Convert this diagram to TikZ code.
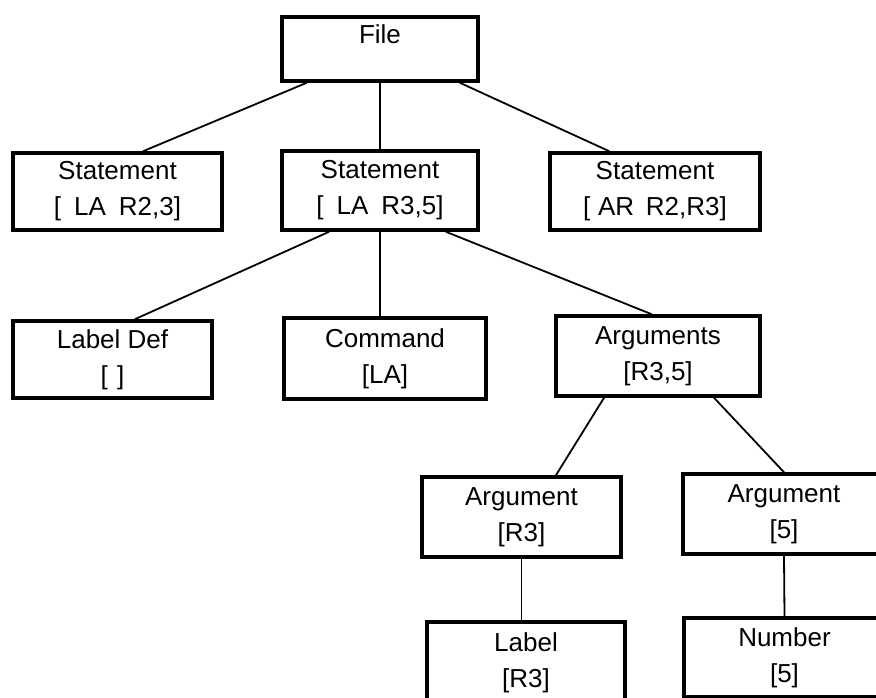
\documentclass[tikz,border=0pt]{standalone}
\usepackage{fontspec}
\setmainfont{Liberation Sans}
\usetikzlibrary{calc}
\begin{document}
\begin{tikzpicture}[x=1pt,y=-1pt,
  box/.style={draw=black, line width=3.5pt, fill=white, rectangle, inner sep=0pt,
    align=center, font=\fontsize{26}{36}\selectfont},
  conn/.style={draw=black, line width=1.8pt}]
\useasboundingbox (0,0) rectangle (876,697);
\clip (0,0) rectangle (876,697);
% boxes
\node[box, minimum width=196pt, minimum height=64pt, text height=19pt, text depth=30pt] (file) at (380,49) {File};
\node[box, minimum width=209pt, minimum height=77pt] (s1) at (117.5,191.5) {Statement\\{[}\hspace{0.5em}LA\hspace{0.5em}R2,3]};
\node[box, minimum width=196pt, minimum height=79pt] (s2) at (380,190.5) {Statement\\{[}\hspace{0.5em}LA\hspace{0.5em}R3,5]};
\node[box, minimum width=210pt, minimum height=77pt] (s3) at (655,191.5) {Statement\\{[}\hspace{0.3em}AR\hspace{0.45em}R2,R3]};
\node[box, minimum width=199pt, minimum height=77pt] (ldef) at (112.5,359.5) {Label Def\\{[}\hspace{0.35em}]};
\node[box, minimum width=202pt, minimum height=81pt] (cmd) at (385,358.5) {Command\\{[}LA]};
\node[box, minimum width=204pt, minimum height=80pt] (args) at (658,356) {Arguments\\{[}R3,5]};
\node[box, minimum width=199pt, minimum height=80pt] (a1) at (521.5,517) {Argument\\{[}R3]};
\node[box, minimum width=202pt, minimum height=80pt] (a2) at (784,514) {Argument\\{[}5]};
\node[box, minimum width=198pt, minimum height=82pt] (lab) at (526,663) {Label\\{[}R3]};
\node[box, minimum width=201pt, minimum height=79pt] (num) at (784.5,657.5) {Number\\{[}5]};
% connectors
\draw[conn] ($(file.south west)!0.133!(file.south east)$) -- ($(s1.north west)!0.62!(s1.north east)$);
\draw[conn] (file.south) -- (s2.north);
\draw[conn] ($(file.south west)!0.90!(file.south east)$) -- ($(s3.north west)!0.286!(s3.north east)$);
\draw[conn] ($(s2.south west)!0.245!(s2.south east)$) -- ($(ldef.north west)!0.61!(ldef.north east)$);
\draw[conn] (s2.south) -- (s2.south |- cmd.north);
\draw[conn] ($(s2.south west)!0.83!(s2.south east)$) -- ($(args.north west)!0.47!(args.north east)$);
\draw[conn] ($(args.south west)!0.24!(args.south east)$) -- ($(a1.north west)!0.67!(a1.north east)$);
\draw[conn] ($(args.south west)!0.77!(args.south east)$) -- (a2.north);
\draw[conn] (a1.south) -- (a1.south |- lab.north);
\draw[conn] (a2.south) -- (num.north);
\end{tikzpicture}
\end{document}
